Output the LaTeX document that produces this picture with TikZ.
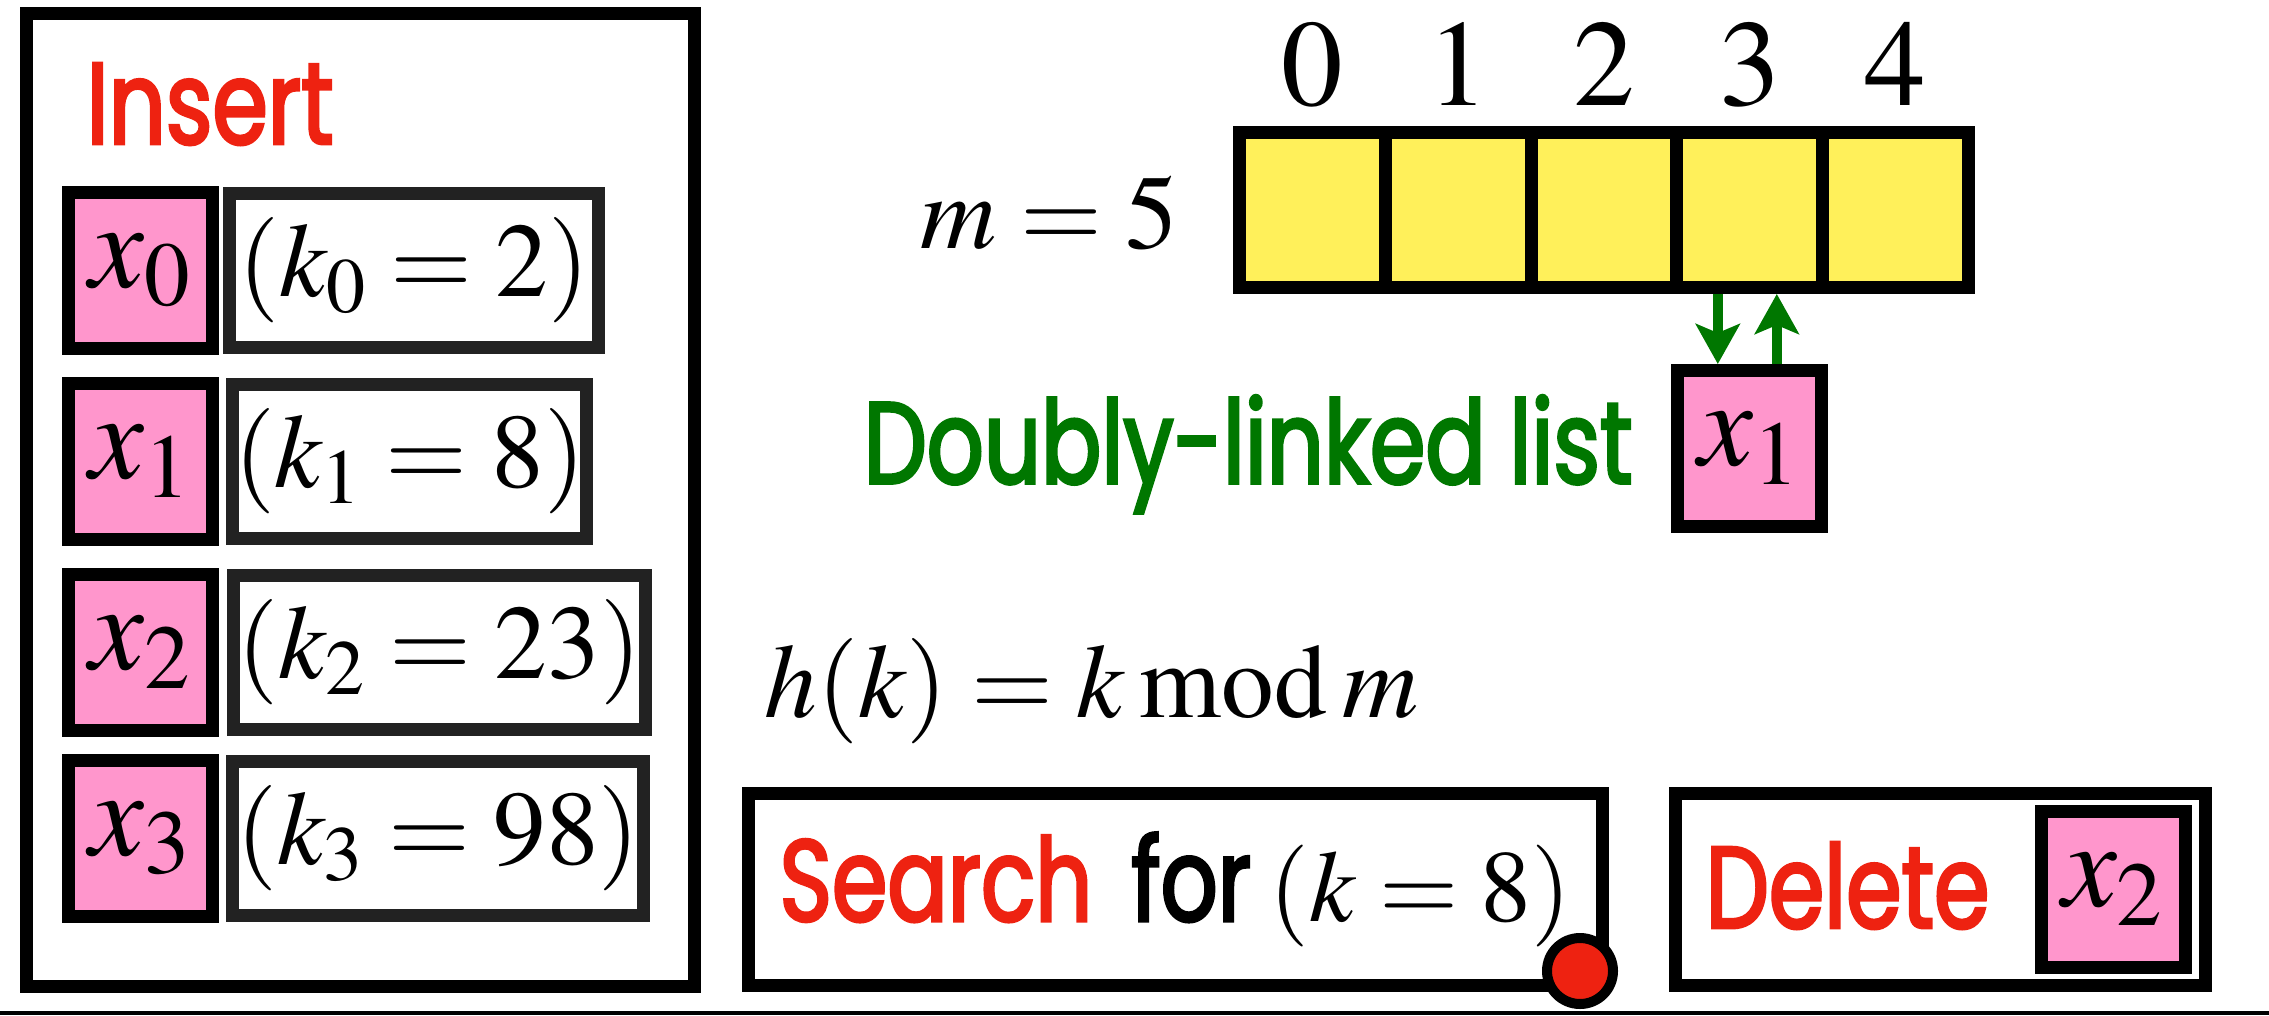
\documentclass[tikz,border=0pt]{standalone}
\usepackage{amsmath}
\usepackage{mathptmx}
\usepackage[no-math]{fontspec}
\newfontfamily\futura[FakeStretch=0.77,FakeBold=2.5]{Poppins}
\usetikzlibrary{arrows.meta,positioning,calc}
\definecolor{ink}{RGB}{0,0,0}
\definecolor{keyline}{RGB}{34,34,34}
\definecolor{rose}{RGB}{255,150,204}
\definecolor{slot}{RGB}{255,240,90}
\definecolor{red2}{RGB}{238,34,17}
\definecolor{grn}{RGB}{0,119,0}
\tikzset{
  panel/.style={draw=ink,line width=1.3mm,inner sep=0pt},
  elem/.style={draw=ink,fill=rose,line width=1.3mm,minimum width=14.4mm,minimum height=15.6mm,
    inner sep=0pt,font=\fontsize{35}{40}\selectfont},
  keybox/.style={draw=keyline,line width=1.3mm,minimum height=15.4mm,inner sep=0pt,
    font=\fontsize{30}{36}\selectfont},
  slotbox/.style={draw=ink,fill=slot,line width=1.3mm,minimum width=14.58mm,minimum height=15.5mm,inner sep=0pt},
  idx/.style={font=\fontsize{35}{40}\selectfont,inner sep=0pt},
  eq/.style={font=\fontsize{30}{36}\selectfont,inner sep=0pt},
  word/.style={font=\futura\fontsize{33}{40}\selectfont,inner sep=0pt},
  linkarr/.style={-{Stealth[length=4mm,width=4.4mm,inset=0.9mm]},line width=1mm,grn},
  ptr/.style={circle,draw=ink,fill=red2,line width=1mm,minimum size=6.6mm,inner sep=0pt},
}

\begin{document}
\begin{tikzpicture}
\useasboundingbox (0,0) rectangle (22.69,10.15);
% left: the items to insert, each with its key
\node[panel,minimum width=66.8mm,minimum height=97.3mm] (ins) at (3.605,5.15) {};
\node[word,text=red2,anchor=base west] (instxt) at (0.86,8.71) {Insert};
\node[elem] (in0) at (1.405,7.445) {$x_0$};
\node[elem,below=2.2mm of in0] (in1) {$x_1$};
\node[elem,below=2.2mm of in1] (in2) {$x_2$};
\node[elem,below=1.7mm of in2] (in3) {$x_3$};
\node[keybox,right=0.4mm of in0,minimum width=36.9mm] (k0) {$(k_0 = 2)$};
\node[keybox,right=0.7mm of in1,minimum width=35.4mm] (k1) {$(k_1 = 8)$};
\node[keybox,right=0.8mm of in2,minimum width=41.2mm] (k2) {$(k_2 = 23)$};
\node[keybox,right=0.7mm of in3,minimum width=41.1mm] (k3) {$(k_3 = 98)$};
% right: table with m slots
\node[slotbox] (c0) at (13.124,8.05) {};
\node[slotbox,right=-1.3mm of c0] (c1) {};
\node[slotbox,right=-1.3mm of c1] (c2) {};
\node[slotbox,right=-1.3mm of c2] (c3) {};
\node[slotbox,right=-1.3mm of c3] (c4) {};
\node[idx,above=2mm of c0,anchor=base] (d0) {$0$};
\node[idx,above=2mm of c1,anchor=base] (d1) {$1$};
\node[idx,above=2mm of c2,anchor=base] (d2) {$2$};
\node[idx,above=2mm of c3,anchor=base] (d3) {$3$};
\node[idx,above=2mm of c4,anchor=base] (d4) {$4$};
\node[eq,anchor=base east] (msize) at (11.79,7.67) {$m = 5$};
% list hanging from slot 3
\node[elem,below=7mm of c3] (lst) {$x_1$};
\node[word,text=grn,anchor=base east] (dll) at ($(lst.west)+(-0.38,-0.35)$) {Doubly-linked list};
\draw[linkarr] ([xshift=-3.2mm]c3.south) -- ([xshift=-3.2mm]lst.north);
\draw[linkarr] ([xshift=2.7mm]lst.north) -- ([xshift=2.7mm]c3.south);
% hash function
\node[eq,anchor=base west] (hash) at (7.64,2.98) {$h(k) = k \mathbin{\mathrm{mod}} m$};
% bottom: search and delete
\node[panel,word,minimum width=85.4mm,minimum height=19.2mm] (srch) at (11.755,1.255)
  {{\color{red2}Search}\hspace{1.5mm} for\hspace{-0.5mm} {\fontsize{29}{34}\selectfont$(k = 8)$}};
\node[ptr] (dot) at ($(srch.south east)+(-0.29,0.21)$) {};
\node[panel,minimum width=53mm,minimum height=19.2mm] (del) at (19.405,1.255) {};
\node[word,text=red2,anchor=base west] (deltxt) at (17.05,0.87) {Delete};
\node[elem] (delx) at (21.13,1.255) {$x_2$};
\draw[line width=0.4mm] (0,0.02) -- (22.69,0.02);
\end{tikzpicture}
\end{document}
